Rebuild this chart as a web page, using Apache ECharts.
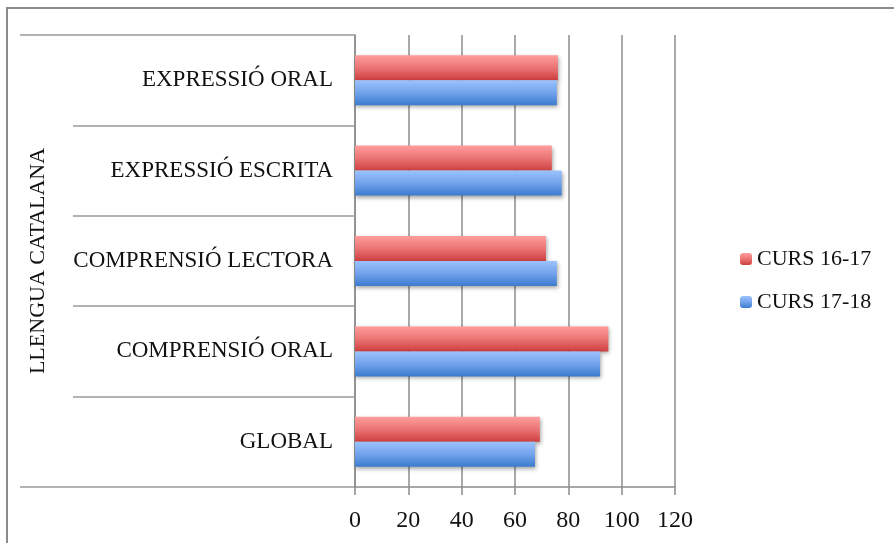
<!DOCTYPE html>
<html>
<head>
<meta charset="utf-8">
<script src="https://cdn.jsdelivr.net/npm/echarts@6/dist/echarts.min.js"></script>
<style>
html,body{margin:0;padding:0;background:#fff;}
#wrap{position:relative;width:894px;height:543px;}
#chart{width:894px;height:543px;}
#frame{position:absolute;left:6px;top:7px;width:888px;height:536px;border-left:2px solid #8a8a8a;border-top:2px solid #8a8a8a;pointer-events:none;box-sizing:border-box;}
</style>
</head>
<body>
<div id="wrap"><div id="chart"></div><div id="frame"></div></div>
<script>
const categories = ['GLOBAL', 'COMPRENSIÓ ORAL', 'COMPRENSIÓ LECTORA', 'EXPRESSIÓ ESCRITA', 'EXPRESSIÓ ORAL'];
const groupLabel = 'LLENGUA CATALANA';
const seriesNames = ['CURS 16-17', 'CURS 17-18'];
const curs1617 = [69.3, 95.0, 71.6, 73.8, 76.1];
const curs1718 = [67.5, 91.9, 75.7, 77.5, 75.7];
const xTicks = [0, 20, 40, 60, 80, 100, 120];

const FONT = 'Liberation Serif';
const chart = echarts.init(document.getElementById('chart'));
const redGrad = new echarts.graphic.LinearGradient(0, 0, 0, 1, [
  {offset: 0, color: '#ff9d9d'}, {offset: 0.5, color: '#eb7474'}, {offset: 1, color: '#cf3f3f'}]);
const blueGrad = new echarts.graphic.LinearGradient(0, 0, 0, 1, [
  {offset: 0, color: '#9cc2fc'}, {offset: 0.5, color: '#72a3ec'}, {offset: 1, color: '#3b7bcd'}]);
const shadow = {shadowBlur: 4, shadowColor: 'rgba(0,0,0,0.35)', shadowOffsetX: 1, shadowOffsetY: 2};

chart.setOption({
  animation: false,
  textStyle: {fontFamily: FONT},
  grid: {left: 355, right: 219, top: 35, bottom: 56, containLabel: false},
  legend: {
    orient: 'vertical', left: 735, top: 243, itemGap: 21,
    itemWidth: 12, itemHeight: 12,
    data: seriesNames,
    textStyle: {fontFamily: FONT, fontSize: 22, color: '#111'}
  },
  xAxis: {
    type: 'value', min: xTicks[0], max: xTicks[xTicks.length - 1], interval: 20,
    axisLine: {show: true, lineStyle: {color: '#8c8c8c', width: 1.5}},
    axisTick: {show: true, length: 8, lineStyle: {color: '#8c8c8c', width: 1.5}},
    splitLine: {show: true, lineStyle: {color: '#8c8c8c', width: 1.5}},
    axisLabel: {margin: 22, fontFamily: FONT, fontSize: 24, color: '#111'}
  },
  yAxis: [{
    type: 'category', data: categories,
    axisLine: {show: true, lineStyle: {color: '#8c8c8c', width: 1.5}},
    axisTick: {show: true, length: 282, lineStyle: {color: '#9a9a9a', width: 1.5}},
    axisLabel: {margin: 22, fontFamily: FONT, fontSize: 23, color: '#111'}
  }, {
    type: 'category', data: categories, position: 'left', offset: 0,
    axisLine: {show: false},
    axisLabel: {show: false},
    axisTick: {show: true, length: 335, interval: function (i) { return i === 0; }, lineStyle: {color: '#9a9a9a', width: 1.5}},
    name: groupLabel, nameLocation: 'middle', nameRotate: 90, nameGap: 306,
    nameTextStyle: {fontFamily: FONT, fontSize: 22, color: '#111'}
  }],
  series: [{
    name: seriesNames[0], type: 'bar', yAxisIndex: 0, data: curs1617,
    barWidth: 25, barGap: '0%',
    itemStyle: Object.assign({color: redGrad}, shadow)
  }, {
    name: seriesNames[1], type: 'bar', yAxisIndex: 0, data: curs1718,
    barWidth: 25, barGap: '0%',
    itemStyle: Object.assign({color: blueGrad}, shadow)
  }]
});
</script>
</body>
</html>
